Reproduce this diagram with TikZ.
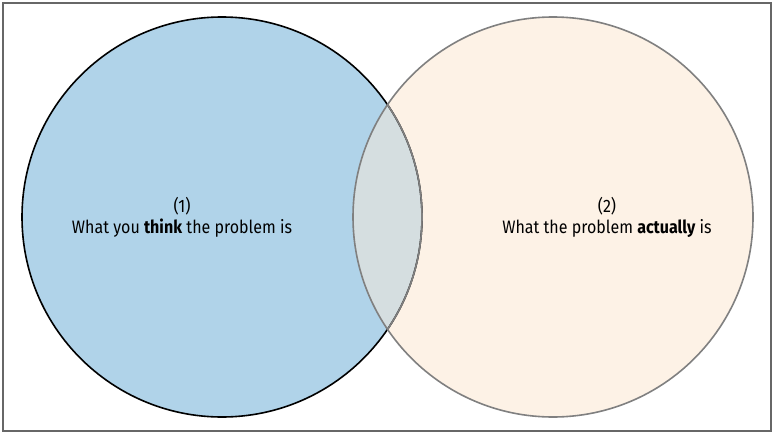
\documentclass[tikz,border=0pt]{standalone}
\usepackage{fontspec}
\setmainfont{Fira Sans}[FakeStretch=0.89]
\definecolor{thinkblue}{RGB}{176,211,233}
\definecolor{actualpeach}{RGB}{253,242,230}
\definecolor{overlapgray}{RGB}{213,222,224}
\definecolor{rimgray}{RGB}{128,128,128}

\begin{document}
\begin{tikzpicture}[x=1pt, y=-1pt, every node/.style={font=\fontsize{18}{21}\selectfont, align=center}]
	\useasboundingbox (0,0) rectangle (773,433);
	\draw[rimgray!120, line width=1.3pt] (3,3) rectangle (771,431);
	\coordinate (think) at (222,217);
	\coordinate (actual) at (553,217);
	\fill[thinkblue] (think) circle (200);
	\fill[actualpeach] (actual) circle (200);
	\begin{scope}
		\clip (think) circle (200);
		\fill[overlapgray] (actual) circle (200);
	\end{scope}
	\draw[black, line width=1.6pt] (think) circle (200);
	\begin{scope}
		\clip (actual) circle (200);
		\draw[rimgray, line width=1.6pt] (think) circle (200);
	\end{scope}
	\draw[rimgray, line width=1.6pt] (actual) circle (200);
	\node (one) at (182,217) {(1)\\What you \textbf{think} the problem is};
	\node (two) at (607,217) {(2)\\What the problem \textbf{actually} is};
\end{tikzpicture}
\end{document}
